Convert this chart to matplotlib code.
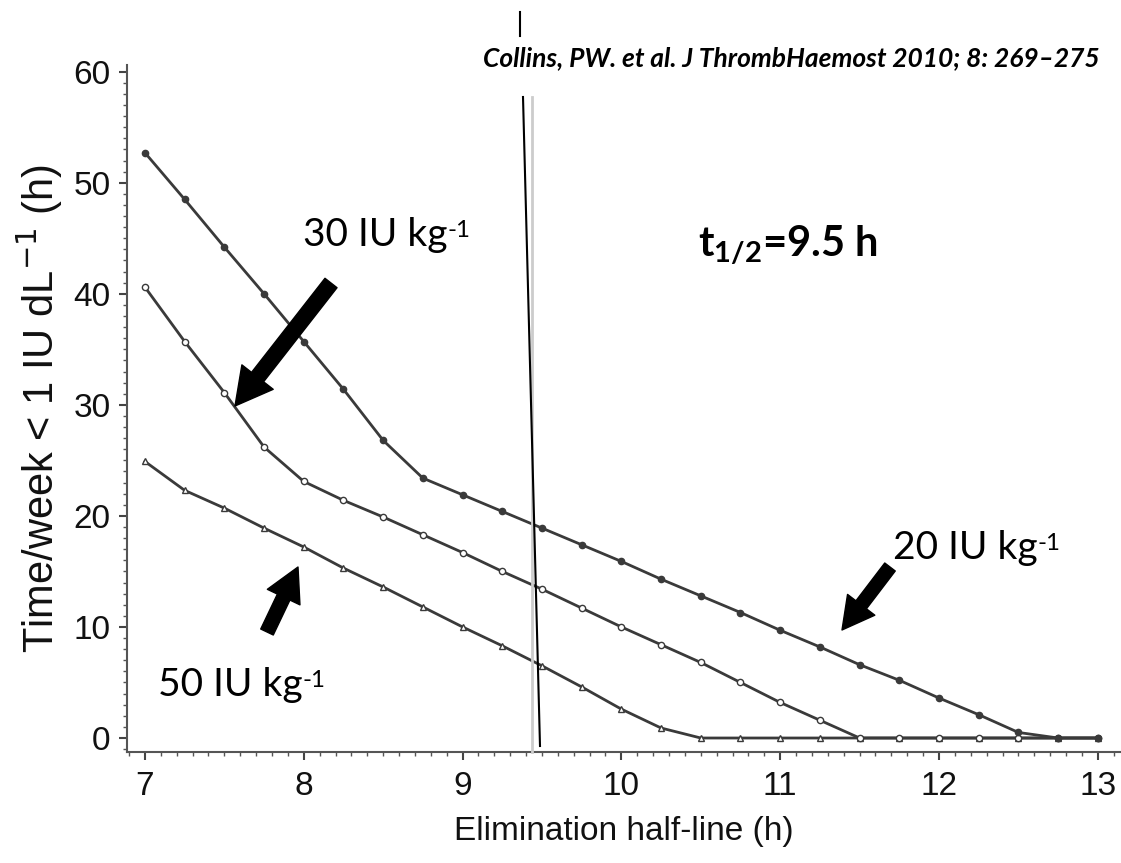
import numpy as np
import matplotlib
matplotlib.use("Agg")
import matplotlib.pyplot as plt
from matplotlib.lines import Line2D
from matplotlib.ticker import MultipleLocator

# elimination half-life grid (h), one point every 0.25 h
half_life = [7.0, 7.25, 7.5, 7.75, 8.0, 8.25, 8.5, 8.75, 9.0, 9.25, 9.5, 9.75,
             10.0, 10.25, 10.5, 10.75, 11.0, 11.25, 11.5, 11.75, 12.0, 12.25,
             12.5, 12.75, 13.0]

# time per week below 1 IU/dL (h)
dose_20 = [52.7, 48.5, 44.2, 40.0, 35.7, 31.4, 26.8, 23.4, 21.9, 20.4, 18.9, 17.4,
           15.9, 14.3, 12.8, 11.3, 9.7, 8.2, 6.6, 5.2, 3.6, 2.1, 0.5, 0.0, 0.0]
dose_30 = [40.6, 35.7, 31.1, 26.2, 23.1, 21.4, 19.9, 18.3, 16.7, 15.0, 13.4, 11.7,
           10.0, 8.4, 6.8, 5.0, 3.2, 1.6, 0.0, 0.0, 0.0, 0.0, 0.0, 0.0, 0.0]
dose_50 = [24.9, 22.3, 20.7, 18.9, 17.2, 15.3, 13.6, 11.8, 10.0, 8.3, 6.5, 4.6,
           2.6, 0.9, 0.0, 0.0, 0.0, 0.0, 0.0, 0.0, 0.0, 0.0, 0.0, 0.0, 0.0]

x_ticks = [7, 8, 9, 10, 11, 12, 13]
y_ticks = [0, 10, 20, 30, 40, 50, 60]

W, H = 1121, 863


def fp(x, y):
    # figure pixel (from top-left) -> figure fraction
    return x / W, 1 - y / H


fig = plt.figure(figsize=(W / 100, H / 100), dpi=100)
ax = fig.add_axes([127 / W, 1 - 752 / H, (W - 127) / W, (752 - 65) / H])

lc = "#3a3a3a"
ax.plot(half_life, dose_50, color=lc, lw=2, marker="^", ms=4.5, mfc="white", mec=lc, mew=1)
ax.plot(half_life, dose_30, color=lc, lw=2, marker="o", ms=4.5, mfc="white", mec=lc, mew=1)
ax.plot(half_life, dose_20, color=lc, lw=2, marker="o", ms=4.5, mfc=lc, mec=lc, mew=1)

ax.set_xlim(6.887, 13.146)
ax.set_ylim(-1.26, 60.6)
ax.set_xticks(x_ticks)
ax.set_yticks(y_ticks)
ax.xaxis.set_minor_locator(MultipleLocator(0.1))
ax.yaxis.set_minor_locator(MultipleLocator(1))
for s in ["top", "right"]:
    ax.spines[s].set_visible(False)
for s in ["left", "bottom"]:
    ax.spines[s].set_color("#555555")
    ax.spines[s].set_linewidth(1.5)
ax.tick_params(which="major", length=6, width=1.5, color="#444444",
               labelsize=24, labelcolor="#111111")
ax.tick_params(which="minor", length=3, width=1, color="#555555")
for lab in ax.get_xticklabels() + ax.get_yticklabels():
    lab.set_family("Liberation Sans")
ax.tick_params(axis="x", pad=8)
ax.tick_params(axis="y", pad=6)

ax.set_xlabel("Elimination half-line (h)", fontsize=24, family="Liberation Sans",
              color="#111111", labelpad=10)
ax.set_ylabel("Time/week < 1 IU dL$^{-1}$ (h)", fontsize=30, family="Liberation Sans",
              color="#111111", labelpad=6)

# vertical marker lines drawn over the figure
fig.add_artist(Line2D([fp(532, 0)[0]] * 2, [fp(0, 97)[1], fp(0, 752)[1]],
                      transform=fig.transFigure, color="#cccccc", lw=2))
fig.add_artist(Line2D([fp(523, 0)[0], fp(540, 0)[0]], [fp(0, 97)[1], fp(0, 746)[1]],
                      transform=fig.transFigure, color="black", lw=1.5))
fig.add_artist(Line2D([fp(520, 0)[0]] * 2, [fp(0, 12)[1], fp(0, 36)[1]],
                      transform=fig.transFigure, color="black", lw=1.5))

# citation
fig.text(*fp(483, 58), "Collins, PW. et al. J ThrombHaemost 2010; 8: 269\u2013275",
         fontsize=19, family="Lato", style="italic", weight="bold",
         ha="left", va="center")


# dose labels with a small raised "-1"
def dose_label(xy, text, size=28):
    t = fig.text(*fp(*xy), text, fontsize=size, family="Lato", ha="left", va="center")
    ax.annotate("-1", xy=(1.0, 0.93), xycoords=t, fontsize=size * 0.62, family="Lato",
                ha="left", va="top")


dose_label((303, 235), "30 IU kg")
dose_label((158, 685), "50 IU kg")
dose_label((893, 548), "20 IU kg")

fig.text(*fp(698, 245), "t$_{\\mathregular{1/2}}$=9.5 h", fontsize=30, family="Lato",
         weight="bold", ha="left", va="center")


# arrows
def arrow(tail, tip, scale):
    ax.annotate("", xy=fp(*tip), xytext=fp(*tail), xycoords="figure fraction",
                textcoords="figure fraction",
                arrowprops=dict(arrowstyle="simple,head_width=1.3,head_length=1.2,tail_width=0.5",
                                mutation_scale=scale, color="black", shrinkA=0, shrinkB=0))


arrow((331, 283), (235, 406), 22)
arrow((267, 632), (298, 567), 20)
arrow((890, 567), (842, 630), 19)

fig.savefig("out.png", dpi=100)
